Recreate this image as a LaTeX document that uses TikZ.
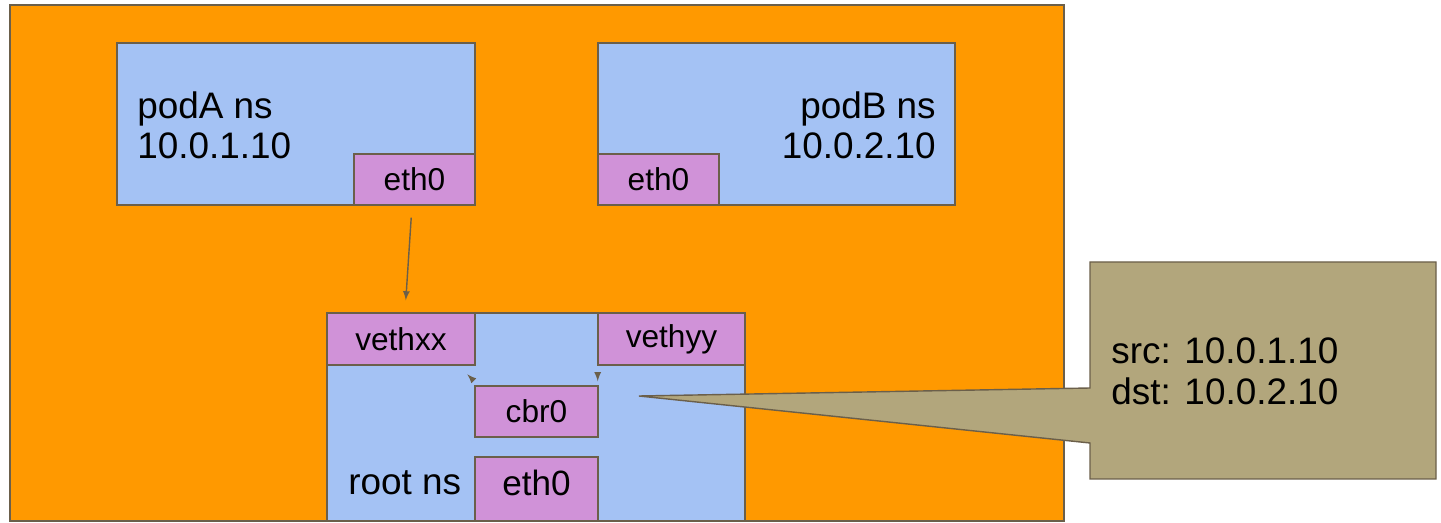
\documentclass[tikz,border=0pt]{standalone}
\usepackage{fontspec}
\setmainfont{Liberation Sans}
\definecolor{hostorange}{HTML}{FF9900}
\definecolor{nsblue}{HTML}{A4C2F4}
\definecolor{ifpink}{HTML}{D092D8}
\definecolor{notetan}{HTML}{B2A67C}
\definecolor{edgegray}{HTML}{6B5F4A}
\tikzset{
  box/.style={draw=edgegray, line width=0.8pt, inner sep=0pt},
  ns/.style={box, fill=nsblue},
  iface/.style={box, fill=ifpink, font=\fontsize{18}{20}\selectfont},
  lbl/.style={inner sep=0pt, font=\fontsize{21}{22.7}\selectfont},
  pkt/.style={-latex, draw=edgegray, line width=0.8pt}
}
\begin{document}
\begin{tikzpicture}[x=0.02cm, y=-0.02cm]
  \useasboundingbox (0,0) rectangle (1441,523);

  % host and the namespaces
  \node[box, fill=hostorange, minimum width=21.08cm, minimum height=10.32cm] (host) at (537,263) {};
  \node[ns, minimum width=7.16cm, minimum height=3.24cm] (podA) at (296,124) {};
  \node[ns, minimum width=7.14cm, minimum height=3.24cm] (podB) at (776.5,124) {};
  \node[ns, minimum width=8.36cm, minimum height=4.16cm] (root) at (536,417) {};

  \node[lbl, anchor=west, align=left] (podAtext) at (137,125) {podA ns\\10.0.1.10};
  \node[lbl, anchor=east, align=right] (podBtext) at (936,125) {podB ns\\10.0.2.10};
  \node[lbl, anchor=west] (roottext) at (348,483) {root ns};

  % interfaces
  \node[iface, minimum width=2.42cm, minimum height=1.02cm] (podAeth) at (414.5,179.5) {eth0};
  \node[iface, minimum width=2.42cm, minimum height=1.02cm] (podBeth) at (658.5,179.5) {eth0};
  \node[iface, minimum width=2.96cm, minimum height=1.04cm] (vethxx) at (401,339) {vethxx};
  \node[iface, minimum width=2.94cm, minimum height=1.04cm] (vethyy) at (671.5,339) {vethyy};
  \node[iface, minimum width=2.46cm, minimum height=1.02cm] (cbr0) at (536.5,411.5) {cbr0};
  \node[iface, minimum width=2.46cm, minimum height=1.28cm, text depth=0.24cm,
        font=\fontsize{20}{22}\selectfont] (rooteth) at (536.5,489) {eth0};

  % packet path
  \draw[pkt, shorten <=0.24cm, shorten >=0.24cm] ([xshift=-0.05cm]podAeth.south) -- ([xshift=0.08cm]vethxx.north);
  \draw[pkt] ([xshift=-0.06cm, yshift=0.14cm]cbr0.north west) -- ([xshift=-0.14cm, yshift=0.22cm]cbr0.north west);
  \draw[pkt] ([xshift=-0.02cm, yshift=0.2cm]cbr0.north east) -- ([xshift=-0.02cm, yshift=0.08cm]cbr0.north east);

  % header note
  \coordinate (tip) at (639,396);
  \draw[draw=edgegray, fill=notetan, line width=0.8pt] (1090,262) -- (1436,262) -- (1436,479)
    -- (1090,479) -- (1090,443) -- (tip) -- (1090,388) -- cycle;
  \node[lbl, anchor=west, align=left, font=\fontsize{21}{23.3}\selectfont] (note) at (1111,371) {src: 10.0.1.10\\dst: 10.0.2.10};

\end{tikzpicture}
\end{document}
